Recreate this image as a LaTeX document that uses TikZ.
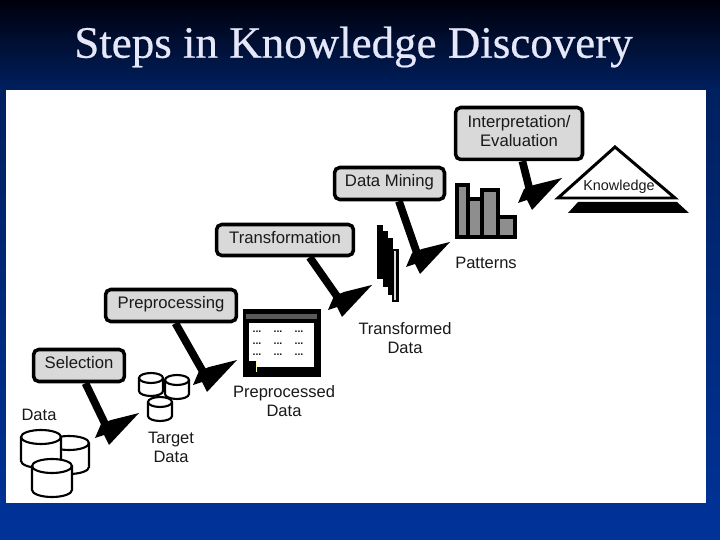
\documentclass[tikz,border=0pt]{standalone}
\usepackage{fontspec}
\setmainfont{Liberation Sans}
\newfontfamily\titlefont[FakeBold=0.5]{Liberation Serif}
\usetikzlibrary{calc}
\definecolor{slidetop}{HTML}{00000C}
\definecolor{slidemid}{HTML}{00205F}
\definecolor{slidebot}{HTML}{003399}
\definecolor{titletext}{HTML}{E6E8FA}
\definecolor{boxgrey}{HTML}{D9D9D9}
\definecolor{bargrey}{HTML}{8E8E8E}
\tikzset{
  pics/steptip/.style={code={\fill[black] (0,0) -- (-28,7) -- (-38,11) -- (-44,25) -- (-35,22) -- (-30,32) -- cycle;}},
  pics/drum/.style n args={3}{code={
    \draw[black, fill=white, line width=1.2pt] (-#1,0) -- (-#1,#3) arc[start angle=180, end angle=0, x radius=#1, y radius=#2] -- (#1,0);
    \draw[black, fill=white, line width=1.2pt] (0,0) ellipse[x radius=#1, y radius=#2];}}}

\begin{document}
\begin{tikzpicture}[x=0.02cm, y=-0.02cm, font=\fontsize{9.4}{10.8}\selectfont, text=black!90,
  stepbox/.style={draw=black, line width=2pt, rounded corners=3pt, fill=boxgrey, align=center, inner sep=0pt, text depth=3pt, font=\fontsize{9.5}{10.8}\selectfont},
  shaft/.style={draw=black, line width=4.4pt},
  label/.style={align=center, inner sep=0pt},
  sheet/.style={fill=black},
  bar/.style={draw=black, line width=1.8pt, fill=bargrey},
  dots/.style={font=\fontsize{6}{6}\selectfont\bfseries, inner sep=0pt}]
\useasboundingbox (0,0) rectangle (720,540);
% slide
\shade[top color=slidetop, bottom color=slidemid] (0,0) rectangle (720,90);
\shade[top color=slidemid, bottom color=slidebot] (0,90) rectangle (720,540);
\fill[white] (6,90) rectangle (706,503);
\node[font=\titlefont\fontsize{25.6}{28}\selectfont, text=titletext, inner sep=0pt] (title) at (353.5,47) {Steps in Knowledge Discovery};
% steps
\node[stepbox, minimum width=1.82cm, minimum height=0.64cm] (sel) at (79,365.5) {Selection};
\node[stepbox, minimum width=2.62cm, minimum height=0.64cm] (prep) at (171,305.5) {Preprocessing};
\node[stepbox, minimum width=2.74cm, minimum height=0.62cm] (trans) at (285,240) {Transformation};
\node[stepbox, minimum width=2.2cm, minimum height=0.64cm] (mining) at (389.5,183.5) {Data Mining};
\node[stepbox, minimum width=2.54cm, minimum height=1.04cm] (interp) at (519,133.5) {Interpretation/\\Evaluation};
% data
\node[label] (data) at (39,415) {Data};
\pic at (69,443) {drum={20}{7}{24}};
\pic at (41,437) {drum={20}{7}{24}};
\pic at (52,466) {drum={20}{7}{24}};
% target data
\pic at (151,378) {drum={12}{5}{13}};
\pic at (177,380) {drum={12}{5}{14}};
\pic at (160,402) {drum={12}{5}{14}};
\node[label] (target) at (171,447) {Target\\Data};
% preprocessed data
\node[draw=black, line width=2.2pt, fill=black, minimum width=1.5cm, minimum height=1.28cm, inner sep=0pt] (win) at (282,343) {};
\fill[black!65] (246,314) rectangle (317,319);
\fill[white] (249,323) rectangle (314,367);
\fill[black] (249,361) rectangle (256,372);
\fill[yellow!30] (256,361) rectangle (257,372);
\foreach \y in {334,346,357}
  \foreach \x in {257,278,299}
    \node[dots] (dot\x\y) at (\x,\y-2) {...};
\node[label] (prepdata) at (284,401) {Preprocessed\\Data};
% transformed data
\fill[sheet] (377,225) rectangle (383,279);
\fill[sheet] (383,231) rectangle (388,287);
\fill[sheet] (388,238) rectangle (393,295);
\draw[draw=black, line width=1.2pt, fill=boxgrey] (393,250) rectangle (397.5,301);
\node[label] (transdata) at (405,338) {Transformed\\Data};
% patterns
\draw[bar] (457,185) rectangle (468,237);
\draw[bar] (468,199) rectangle (482,237);
\draw[bar] (482,190) rectangle (498,237);
\draw[bar] (498,217) rectangle (515,237);
\node[label] (patterns) at (486,263) {Patterns};
% knowledge
\draw[black, line width=1.7pt, fill=white, line join=miter] (615,147) -- (675,198) -- (558,198) -- cycle;
\node[label, font=\fontsize{8.2}{10}\selectfont] (know) at (619,187) {Knowledge};
\fill[black] (578,202) -- (677,202) -- (689,213) -- (568,213) -- cycle;
% arrows
\coordinate (tipa) at (139,413);
\coordinate (tipb) at (237,360);
\coordinate (tipc) at (372,285);
\coordinate (tipd) at (450,242);
\coordinate (tipe) at (562,178);
\draw[shaft] (sel.-70) -- ($(tipa)+(-31,17)$); \pic at (tipa) {steptip};
\draw[shaft] (prep.-76) -- ($(tipb)+(-31,17)$); \pic at (tipb) {steptip};
\draw[shaft] (trans.-35) -- ($(tipc)+(-31,17)$); \pic at (tipc) {steptip};
\draw[shaft] (mining.-62) -- ($(tipd)+(-31,17)$); \pic at (tipd) {steptip};
\draw[shaft] (interp.-83) -- ($(tipe)+(-31,17)$); \pic at (tipe) {steptip};
\end{tikzpicture}
\end{document}
